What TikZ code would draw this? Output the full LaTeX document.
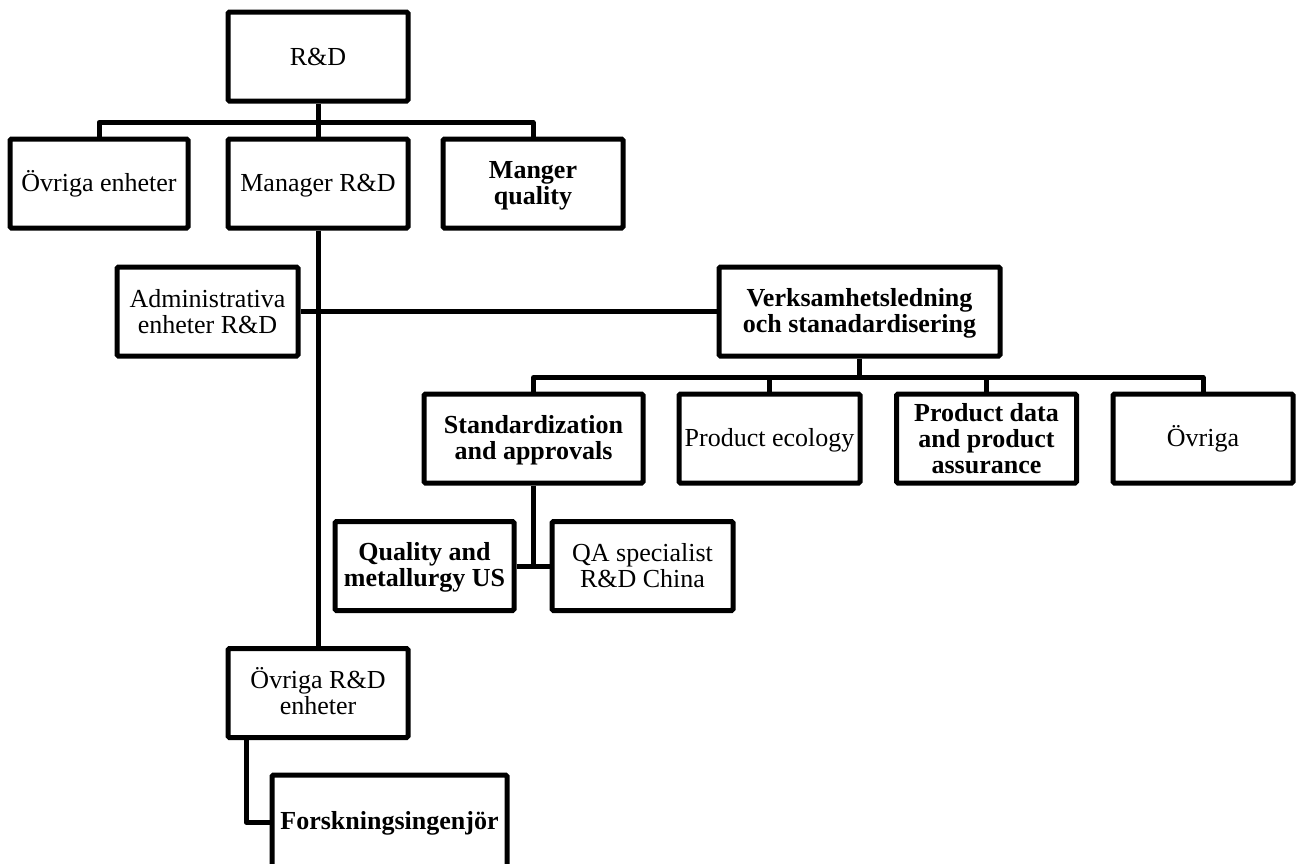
\documentclass[tikz,border=0pt]{standalone}
\usepackage{fontspec}
\setmainfont{Liberation Serif}
\newcommand\ls{\rule[-4.5pt]{0pt}{26pt}}
\newcommand\tightls{\lineskiplimit -20pt\relax}
\begin{document}
\begin{tikzpicture}[x=1pt,y=-1pt,
  box/.style={draw,line width=5pt,rounded corners=1.5pt,rectangle,inner sep=0pt,align=center,
    font=\fontsize{26}{26}\selectfont\tightls},
  bbox/.style={box,font=\fontsize{26}{26}\selectfont\tightls\bfseries},
  conn/.style={line width=5pt,line join=round}]
\useasboundingbox (0,0) rectangle (1297,863);
% boxes: center, width, height
\node[box,minimum width=180,minimum height=89] (rd) at (318,56.5) {\ls R\&D};
\node[box,minimum width=178,minimum height=89] (ovr) at (99,183.5) {\ls Övriga enheter};
\node[box,minimum width=180,minimum height=89] (mgr) at (318,183.5) {\ls Manager R\&D};
\node[bbox,minimum width=180,minimum height=89] (mq) at (533,183.5) {\ls Manger\\\ls quality};
\node[box,minimum width=181,minimum height=89] (adm) at (207.5,311.5) {\ls Administrativa\\\ls enheter R\&D};
\node[bbox,minimum width=281,minimum height=89] (verk) at (859.5,311.5) {\ls Verksamhetsledning\\\ls och stanadardisering};
\node[bbox,minimum width=219,minimum height=89] (std) at (533.5,438.5) {\ls Standardization\\\ls and approvals};
\node[box,minimum width=181,minimum height=89] (eco) at (769.5,438.5) {\ls Product ecology};
\node[bbox,minimum width=180,minimum height=89] (pda) at (986.5,438.5) {\ls Product data\\\ls and product\\\ls assurance};
\node[box,minimum width=180,minimum height=89] (ovg) at (1203,438.5) {\ls Övriga};
\node[bbox,minimum width=179,minimum height=89] (qm) at (424.5,566) {\ls Quality and\\\ls metallurgy US};
\node[box,minimum width=181,minimum height=89] (qa) at (642.5,566) {\ls QA specialist\\\ls R\&D China};
\node[box,minimum width=180,minimum height=89] (ordd) at (318,693) {\ls Övriga R\&D\\\ls enheter};
\node[bbox,minimum width=235,minimum height=94] (fors) at (389.5,822) {\ls Forskningsingenjör};
% connectors
\draw[conn] (rd.south) -- ++(0,19) coordinate (b1);
\draw[conn] (ovr.north) |- (b1) -| (mq.north);
\draw[conn] (b1) -- (mgr.north);
\draw[conn] (mgr.south) -- (ordd.north);
\draw[conn] (adm.east) -- (verk.west);
\draw[conn] (verk.south) -- ++(0,19) coordinate (b2);
\draw[conn] (std.north) |- (b2) -| (ovg.north);
\draw[conn] (eco.north) -- (eco.north |- b2);
\draw[conn] (pda.north) -- (pda.north |- b2);
\draw[conn] (qm.east) -- (qa.west);
\draw[conn] (std.south) -- (std.south |- qm.east);
\coordinate (ob) at ([xshift=-72pt]ordd.south);
\draw[conn] (ob) |- (fors.west);
\end{tikzpicture}
\end{document}
